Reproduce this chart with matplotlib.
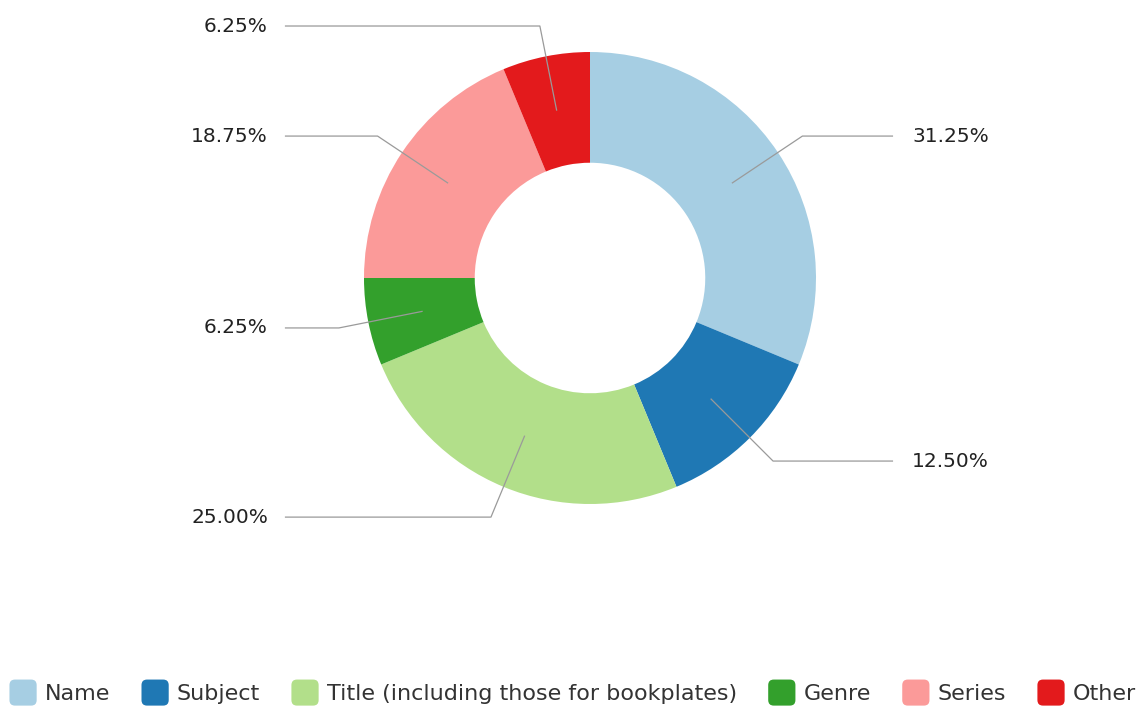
import numpy as np
import matplotlib.pyplot as plt
from matplotlib.patches import FancyBboxPatch
from matplotlib.legend_handler import HandlerPatch
from matplotlib.patches import Patch

categories = ["Name", "Subject", "Title (including those for bookplates)", "Genre", "Series", "Other"]
shares = [31.25, 12.50, 25.00, 6.25, 18.75, 6.25]
colors = ["#a6cee3", "#1f78b4", "#b2df8a", "#33a02c", "#fb9a99", "#e31a1c"]
# height of each label (in units of the outer radius)
label_y = [0.628, -0.81, -1.058, -0.221, 0.628, 1.115]

W, H = 1144, 706
cx, cy, R = 590, 278, 226

plt.rcParams['font.family'] = ['DejaVu Sans']
fig = plt.figure(figsize=(W / 100, H / 100), dpi=100)
ax = fig.add_axes([0, 0, 1, 1])

wedges, _ = ax.pie(shares, colors=colors, startangle=90, counterclock=False,
                   radius=1, wedgeprops=dict(width=0.49, linewidth=0))
# pie() sets its own limits, so override afterwards
ax.set_xlim(-cx / R, (W - cx) / R)
ax.set_ylim(-(H - cy) / R, cy / R)
ax.set_aspect('equal', adjustable='datalim')
ax.axis('off')

line_c = "#9a9a9a"
start = 90.0
for val, ly in zip(shares, label_y):
    sweep = val / sum(shares) * 360
    mid = np.deg2rad(start - sweep / 2)
    start -= sweep
    r0 = 0.755
    x0, y0 = r0 * np.cos(mid), r0 * np.sin(mid)
    # walk along the radial direction until the label height
    t = (ly - y0) / np.sin(mid)
    xe = x0 + t * np.cos(mid)
    right = np.cos(mid) > 0
    xend = 1.341 if right else -1.35
    ax.plot([x0, xe, xend], [y0, ly, ly], color=line_c, lw=0.9, solid_capstyle='butt')
    xt = 1.425 if right else -1.425
    ax.text(xt, ly, f"{val:.2f}%", ha='left' if right else 'right', va='center',
            fontsize=14.5, color="#222222")


class RoundBox(HandlerPatch):
    def create_artists(self, legend, orig_handle, xdescent, ydescent, width, height, fontsize, trans):
        p = FancyBboxPatch((-xdescent + 1, -ydescent - 3), width - 2, height + 6,
                           boxstyle="round,pad=0,rounding_size=4",
                           facecolor=orig_handle.get_facecolor(), edgecolor='none', transform=trans)
        return [p]


handles = [Patch(facecolor=c, label=n) for c, n in zip(colors, categories)]
fig.legend(handles=handles, loc='center', bbox_to_anchor=(0.5, 1 - 694 / H), ncol=6,
           frameon=False, fontsize=16, handlelength=1.35, handleheight=0.85,
           handletextpad=0.3, columnspacing=1.35,
           handler_map={Patch: RoundBox()}, labelcolor="#333333")

fig.savefig("out.png", dpi=100)
